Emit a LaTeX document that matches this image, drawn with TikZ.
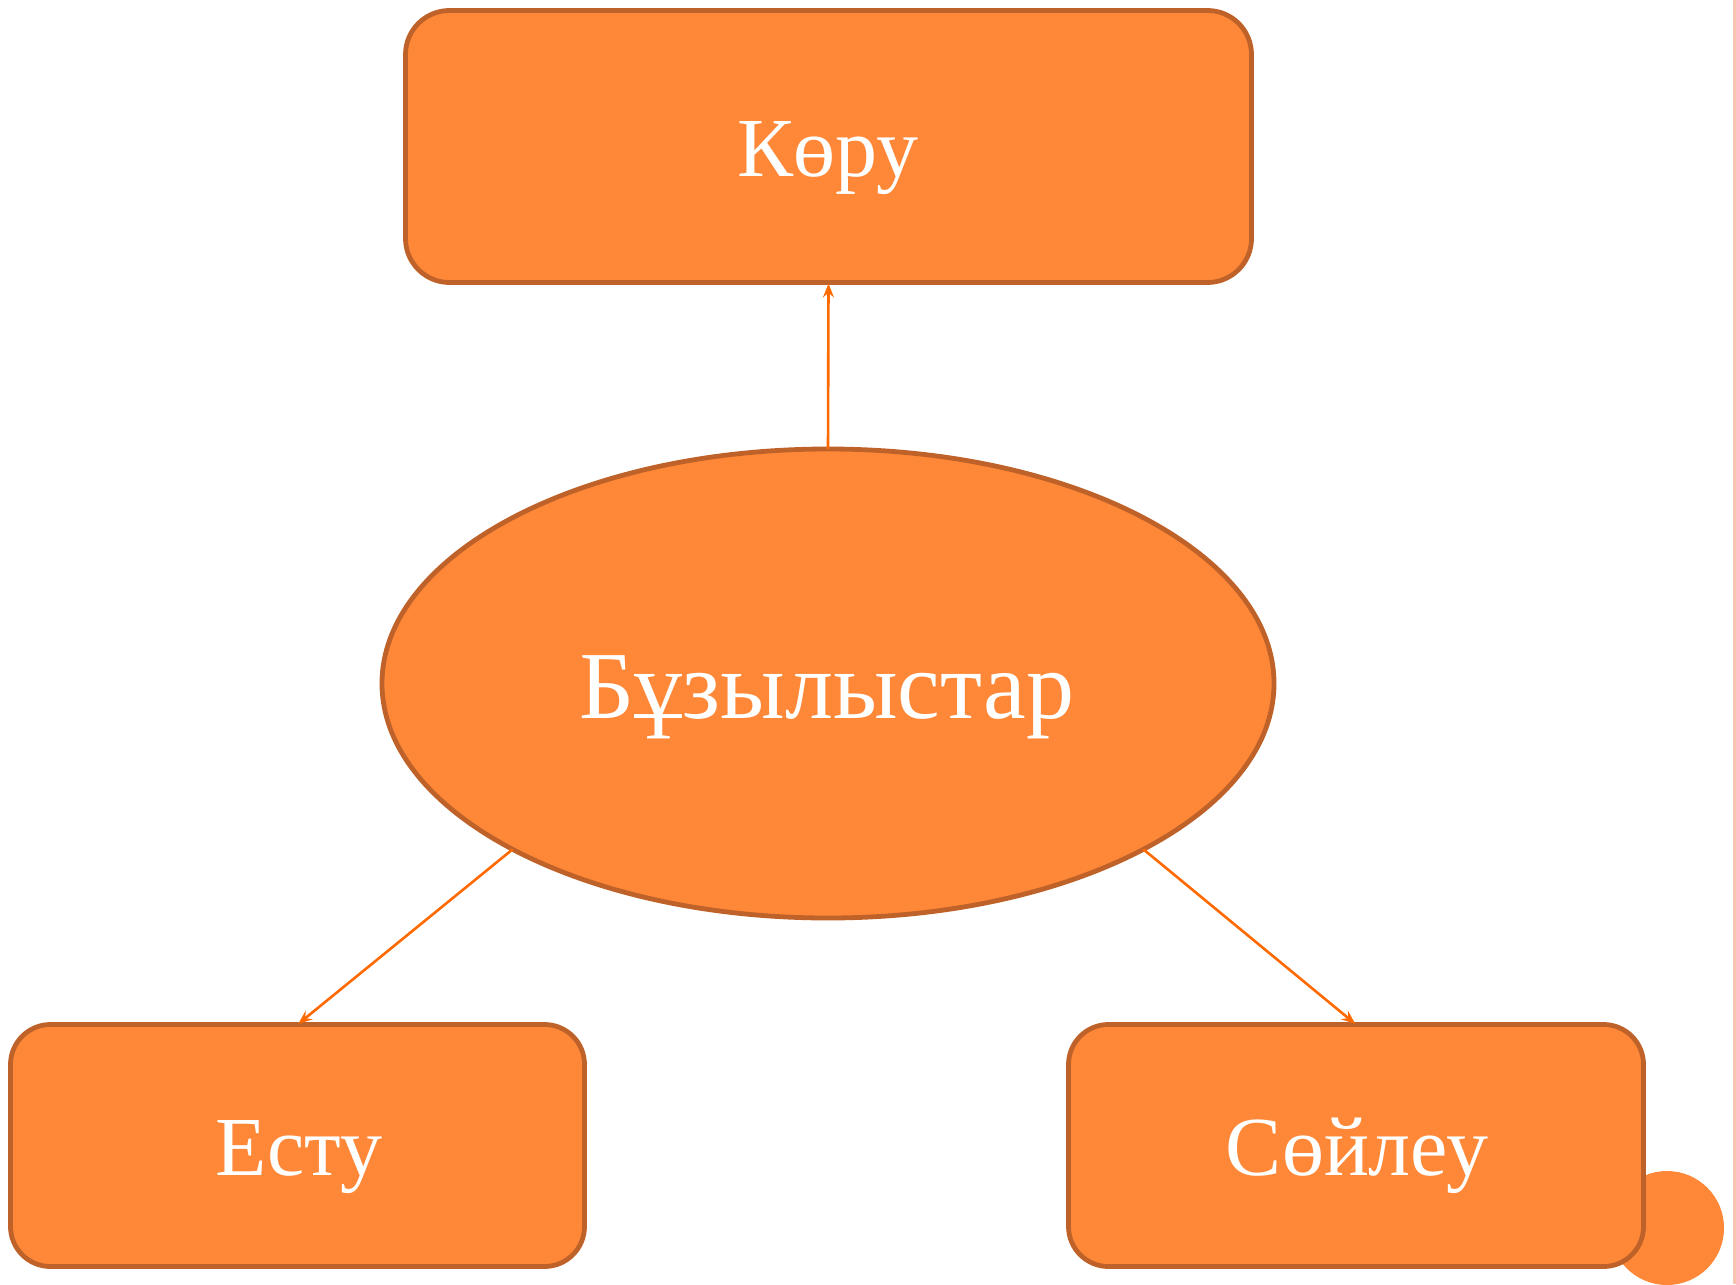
\documentclass[tikz,border=0pt]{standalone}
\usepackage{fontspec}
\setmainfont{Liberation Serif}
\usetikzlibrary{arrows.meta,shapes.geometric}
\definecolor{boxfill}{HTML}{FF8838}
\definecolor{boxline}{HTML}{BF622A}
\definecolor{arrowc}{HTML}{FF6A00}
\definecolor{edgec}{HTML}{F8C4B0}
\tikzset{
  box/.style={draw=boxline, fill=boxfill, line width=4.8pt, rounded corners=#1, inner sep=0pt, outer sep=0pt},
  oval/.style={ellipse, draw=boxline, fill=boxfill, line width=4.8pt, inner sep=0pt, outer sep=0pt,
     minimum width=892pt, minimum height=469pt},
  lbl/.style={text=white, anchor=base, inner sep=0pt, font=\fontsize{84}{90}\selectfont},
  conn/.style={draw=arrowc, line width=2.6pt, -{Stealth[length=14pt,width=11pt,inset=5pt]}, shorten >=1pt}
}
\begin{document}
\begin{tikzpicture}[x=1pt,y=-1pt]
\useasboundingbox (0,0) rectangle (1736,1284);
\fill[edgec] (1733,0) rectangle (1736,1284);
\begin{scope}
\clip (0,0) rectangle (1736,1284);
\fill[boxfill] (1667,1228) circle (57);
\end{scope}
\node[box=44pt, minimum width=846pt, minimum height=272pt] (t) at (828.5,146.5) {};
\node[oval] (e) at (828,683.5) {};
\node[box=40pt, minimum width=574pt, minimum height=242pt] (l) at (297.5,1145.5) {};
\node[box=40pt, minimum width=575pt, minimum height=242pt] (r) at (1356,1145.5) {};
\node[lbl] (tl) at (828,177) {Көру};
\node[lbl, font=\fontsize{96}{100}\selectfont] (el) at (827,718) {Бұзылыстар};
\node[lbl] (ll) at (299,1175) {Есту};
\node[lbl] (rl) at (1357,1175) {Сөйлеу};
\draw[conn] (e.north) -- (t.south);
\draw[conn] (e.south west) -- (l.north);
\draw[conn] (e.south east) -- (r.north);
\end{tikzpicture}
\end{document}
